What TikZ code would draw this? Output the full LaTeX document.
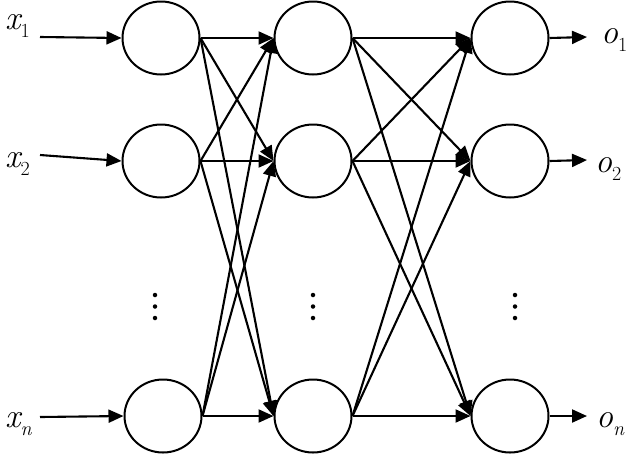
\documentclass[tikz,border=0pt]{standalone}
\usepackage{fontspec}
\usetikzlibrary{shapes.geometric,arrows.meta}
\newcommand{\lblsub}[2]{{\itshape #1}\raisebox{-8pt}{\fontsize{20}{20}\selectfont #2}}
\begin{document}
\begin{tikzpicture}[x=1pt,y=-1pt,
  neuron/.style={draw,ellipse,line width=2pt,minimum width=77pt,minimum height=73pt,inner sep=0pt},
  conn/.style={line width=2.1pt,-{Triangle[length=15pt,width=13pt]}},
  lbl/.style={font=\fontsize{34}{34}\selectfont,inner sep=0pt,anchor=base west},
  dot/.style={fill,circle,inner sep=0pt,minimum size=4.5pt}]
\useasboundingbox (0,0) rectangle (626,459);
% layer 1
\node[neuron] (a1) at (161,38) {};
\node[neuron] (a2) at (161,161) {};
\node[neuron] (an) at (163,416) {};
% layer 2
\node[neuron] (b1) at (313,38) {};
\node[neuron] (b2) at (313,161) {};
\node[neuron] (bn) at (313,416) {};
% layer 3
\node[neuron] (c1) at (510,38) {};
\node[neuron] (c2) at (510,161) {};
\node[neuron] (cn) at (510,416) {};
% dots
\foreach \x/\n in {155/p,313/q,515/r}{
  \node[dot] (\n1) at (\x,295) {};
  \node[dot] (\n2) at (\x,306.5) {};
  \node[dot] (\n3) at (\x,318) {};
}
% inputs
\coordinate (i1) at (40,37);
\coordinate (i2) at (40,155);
\coordinate (in) at (40,417);
\draw[conn] (i1) -- (a1.west);
\draw[conn] (i2) -- (a2.west);
\draw[conn] (in) -- (an.west);
\node[lbl] (lx1) at (5,29) {\lblsub{x}{1}};
\node[lbl] (lx2) at (5,167) {\lblsub{x}{2}};
\node[lbl] (lxn) at (5,427) {\lblsub{x}{\itshape n}};
% outputs
\coordinate (o1) at (587,37);
\coordinate (o2) at (587,160);
\coordinate (on) at (587,416);
\draw[conn] (c1.east) -- (o1);
\draw[conn] (c2.east) -- (o2);
\draw[conn] (cn.east) -- (on);
\node[lbl] (lo1) at (601,43) {\lblsub{o}{1}};
\node[lbl] (lo2) at (595,172) {\lblsub{o}{2}};
\node[lbl] (lon) at (596,427) {\lblsub{o}{\itshape n}};
% full connections
\foreach \s in {a1,a2,an}{
  \foreach \t in {b1,b2,bn}{
    \draw[conn] (\s.east) -- (\t.west);
  }
}
\foreach \s in {b1,b2,bn}{
  \foreach \t in {c1,c2,cn}{
    \draw[conn] (\s.east) -- (\t.west);
  }
}
\end{tikzpicture}
\end{document}
